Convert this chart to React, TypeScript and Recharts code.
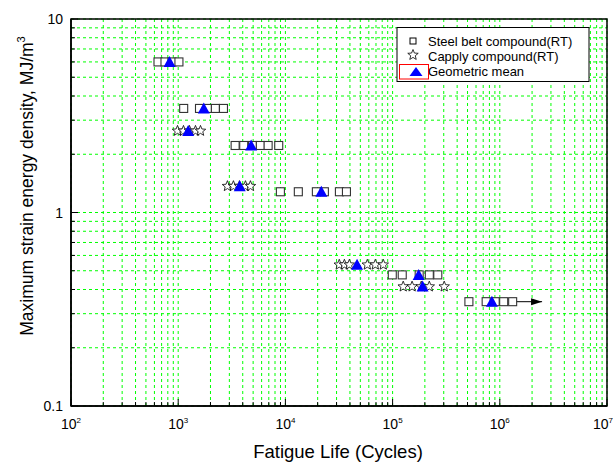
import React from 'react';
import { ScatterChart, Scatter, XAxis, YAxis, CartesianGrid, ReferenceArea } from 'recharts';

const FONT = '"Liberation Sans", Arial, Helvetica, sans-serif';

// Steel belt compound (RT): fatigue life [cycles] and max strain energy density [MJ/m^3]
const steelBeltLife = [
  648, 753, 875, 1016,
  1125, 1580, 1875, 2222, 2644,
  3397, 4085, 4925, 5840, 6900, 8665,
  8980, 13200, 19450, 23100, 31900, 37100,
  99300, 123000, 177000, 220000, 264000,
  515000, 746000, 906000, 1087000, 1318000,
];
const steelBeltEnergy = [
  6.0, 6.0, 6.0, 6.0,
  3.45, 3.45, 3.45, 3.45, 3.45,
  2.22, 2.22, 2.22, 2.22, 2.22, 2.22,
  1.28, 1.28, 1.28, 1.28, 1.28, 1.28,
  0.476, 0.476, 0.476, 0.476, 0.476,
  0.346, 0.346, 0.346, 0.346, 0.346,
];

// Capply compound (RT)
const capplyLife = [
  985, 1120, 1274, 1449, 1614,
  2880, 3275, 3727, 4240, 4720,
  31800, 35500, 39500, 58100, 69000, 81900,
  125600, 152000, 185000, 220000, 303000,
];
const capplyEnergy = [
  2.64, 2.64, 2.64, 2.64, 2.64,
  1.368, 1.368, 1.368, 1.368, 1.368,
  0.537, 0.537, 0.537, 0.537, 0.537, 0.537,
  0.414, 0.414, 0.414, 0.414, 0.414,
];

// Geometric mean of each test group
const meanLife = [830, 1733, 1239, 4790, 3750, 21640, 46600, 175000, 190500, 844000];
const meanEnergy = [6.0, 3.45, 2.64, 2.22, 1.368, 1.28, 0.537, 0.476, 0.414, 0.346];

// Run-out arrow (test stopped without failure)
const runoutLife = [1318000, 2480000];
const runoutEnergy = [0.346, 0.346];

// Axis ticks: one per integer multiple inside each decade
const xDecades = [100, 1000, 10000, 100000, 1000000];
const yDecades = [0.1, 1];
const multipliers = [1, 2, 3, 4, 5, 6, 7, 8, 9];
const xTicks = [...xDecades.flatMap((d) => multipliers.map((m) => d * m)), 10000000];
const yTicks = [...yDecades.flatMap((d) => multipliers.map((m) => +(d * m).toFixed(2))), 10];
const yMajorLabels = ['0.1', '1', '10'];

const toPoints = (xs: number[], ys: number[]) => xs.map((life, i) => ({ life, energy: ys[i] }));

const steelBeltData = toPoints(steelBeltLife, steelBeltEnergy);
const capplyData = toPoints(capplyLife, capplyEnergy);
const meanData = toPoints(meanLife, meanEnergy);
const runoutData = toPoints(runoutLife, runoutEnergy);

const isDecade = (v: number) => {
  const e = Math.round(Math.log10(v));
  return Math.abs(v - Math.pow(10, e)) < 1e-6 * v;
};

const starPoints = (cx: number, cy: number, ro: number, ri: number) => {
  const pts: string[] = [];
  for (let k = 0; k < 10; k++) {
    const r = k % 2 === 0 ? ro : ri;
    const a = -Math.PI / 2 + (k * Math.PI) / 5;
    pts.push(`${(cx + r * Math.cos(a)).toFixed(2)},${(cy + r * Math.sin(a)).toFixed(2)}`);
  }
  return pts.join(' ');
};

const SquareMark = (p: any) => (
  <rect x={p.cx - 4} y={p.cy - 4} width={8} height={8} fill="#fff" stroke="#333" strokeWidth={1.1} />
);
const StarMark = (p: any) => (
  <polygon points={starPoints(p.cx, p.cy, 5.5, 2.4)} fill="#fff" stroke="#000" strokeWidth={0.8} />
);
const TriangleMark = (p: any) => (
  <polygon points={`${p.cx},${p.cy - 6} ${p.cx + 6},${p.cy + 5} ${p.cx - 6},${p.cy + 5}`} fill="#0000ff" />
);
const ArrowHead = (p: any) => {
  if (p.payload?.life !== runoutLife[runoutLife.length - 1]) return <g />;
  return <polygon points={`${p.cx},${p.cy} ${p.cx - 11},${p.cy - 3.5} ${p.cx - 11},${p.cy + 3.5}`} fill="#000" />;
};

const XTick = (p: any) => {
  const v = p.payload.value;
  const major = isDecade(v);
  const e = Math.round(Math.log10(v));
  // keep the last decade label inside the canvas
  const shift = e >= 7 ? -4 : 0;
  return (
    <g>
      <line x1={p.x} x2={p.x} y1={p.y} y2={p.y - (major ? 7 : 4)} stroke="#000" strokeWidth={1} />
      {major && (
        <text x={p.x + shift} y={p.y + 23} textAnchor="middle" fontFamily={FONT} fontSize={14} fill="#000">
          10
          <tspan dy={-6} fontSize={8}>
            {e}
          </tspan>
        </text>
      )}
    </g>
  );
};

const YTick = (p: any) => {
  const v = p.payload.value;
  const major = isDecade(v);
  const label = yMajorLabels.find((s) => Math.abs(parseFloat(s) - v) < 1e-9);
  return (
    <g>
      <line x1={p.x} x2={p.x + (major ? 7 : 4)} y1={p.y} y2={p.y} stroke="#000" strokeWidth={1} />
      {major && (
        <text x={p.x - 8} y={p.y + 5} textAnchor="end" fontFamily={FONT} fontSize={14} fill="#000">
          {label}
        </text>
      )}
    </g>
  );
};

const legendItems = ['Steel belt compound(RT)', 'Capply compound(RT)', 'Geometric mean'];

export default function App() {
  return (
    <div style={{ position: 'absolute', left: 0, top: 0, width: 613, height: 463, background: '#fff' }}>
      <ScatterChart width={613} height={463} margin={{ top: 19, right: 6, bottom: 0, left: 0 }}>
        <CartesianGrid stroke="#00ff00" strokeDasharray="3 3" strokeWidth={1} />
        <XAxis
          dataKey="life"
          type="number"
          scale="log"
          domain={[100, 10000000]}
          allowDataOverflow
          ticks={xTicks}
          interval={0}
          height={57}
          tickSize={0}
          tickMargin={0}
          tick={<XTick />}
          axisLine={{ stroke: '#000', strokeWidth: 1.5 }}
          tickLine={false}
        />
        <YAxis
          dataKey="energy"
          type="number"
          scale="log"
          domain={[0.1, 10]}
          allowDataOverflow
          ticks={yTicks}
          interval={0}
          width={71}
          tickSize={0}
          tickMargin={0}
          tick={<YTick />}
          axisLine={{ stroke: '#000', strokeWidth: 1.5 }}
          tickLine={false}
        />
        <ReferenceArea x1={100} x2={10000000} y1={0.1} y2={10} fill="none" stroke="#000" strokeWidth={1.5} />
        <Scatter data={runoutData} line={{ stroke: '#000', strokeWidth: 1 }} shape={ArrowHead} isAnimationActive={false} />
        <Scatter data={steelBeltData} shape={SquareMark} isAnimationActive={false} />
        <Scatter data={capplyData} shape={StarMark} isAnimationActive={false} />
        <Scatter data={meanData} shape={TriangleMark} isAnimationActive={false} />
      </ScatterChart>
      <svg width={613} height={463} style={{ position: 'absolute', left: 0, top: 0, pointerEvents: 'none' }}>
        <text x={338} y={458} textAnchor="middle" fontFamily={FONT} fontSize={18.5} fill="#000">
          Fatigue Life (Cycles)
        </text>
        <text
          transform="translate(33, 186) rotate(-90)"
          textAnchor="middle"
          fontFamily={FONT}
          fontSize={17.5}
          fill="#000"
        >
          Maximum strain energy density, MJ/m
          <tspan dy={-8} fontSize={11}>
            3
          </tspan>
        </text>
        <rect x={397} y={27.5} width={192} height={54} fill="#fff" stroke="#000" strokeWidth={1} />
        <rect x={410} y={38} width={6} height={6} fill="#fff" stroke="#000" strokeWidth={1} />
        <polygon points={starPoints(413, 55, 5.5, 2.4)} fill="#fff" stroke="#000" strokeWidth={0.8} />
        <rect x={399.5} y={64.5} width={29} height={14.5} fill="none" stroke="#ff0000" strokeWidth={1} />
        <polygon points="416,67 422.5,76 409.5,76" fill="#0000ff" />
        {legendItems.map((t, i) => (
          <text key={t} x={428} y={46 + i * 14.8} fontFamily={FONT} fontSize={13} fill="#000">
            {t}
          </text>
        ))}
      </svg>
    </div>
  );
}
